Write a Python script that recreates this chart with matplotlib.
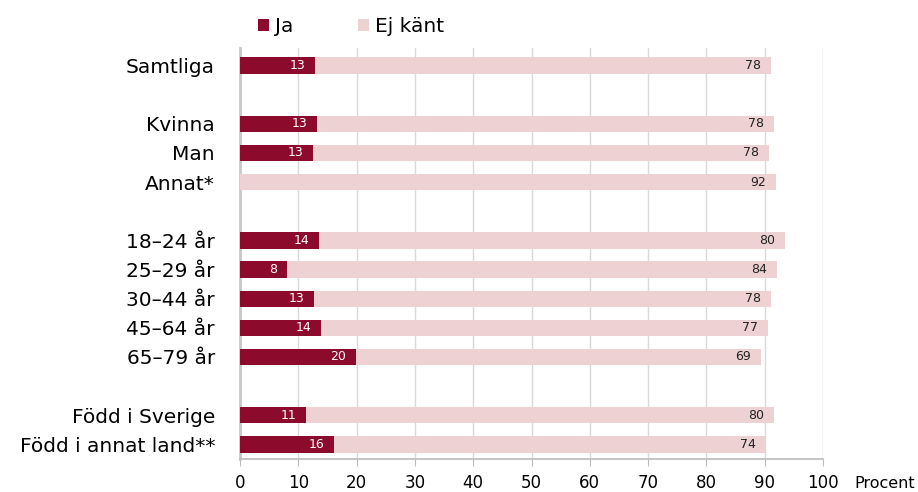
import matplotlib.pyplot as plt
import numpy as np

categories = ["Samtliga", "Kvinna", "Man", "Annat*", "18–24 år", "25–29 år",
              "30–44 år", "45–64 år", "65–79 år", "Född i Sverige", "Född i annat land**"]
row_pos = [0, 2, 3, 4, 6, 7, 8, 9, 10, 12, 13]
ja = [12.9, 13.2, 12.5, 0, 13.6, 8.1, 12.7, 13.9, 19.9, 11.3, 16.1]
ja_labels = ["13", "13", "13", "", "14", "8", "13", "14", "20", "11", "16"]
ej = [78.2, 78.4, 78.2, 91.9, 79.9, 84.0, 78.4, 76.7, 69.5, 80.3, 74.1]
ej_labels = ["78", "78", "78", "92", "80", "84", "78", "77", "69", "80", "74"]
xticks = [0, 10, 20, 30, 40, 50, 60, 70, 80, 90, 100]

c_ja = "#8C0A2C"
c_ej = "#EDD1D3"
font = "DejaVu Sans"

fig = plt.figure(figsize=(9.18, 4.92), dpi=100)
ax = fig.add_axes([240/918, (492-459)/492, (823-240)/918, (459-48)/492])

h = 0.56
ax.barh(row_pos, ja, height=h, color=c_ja, label="Ja", zorder=3)
ax.barh(row_pos, ej, left=ja, height=h, color=c_ej, label="Ej känt", zorder=3)

for y, a, al, e, el in zip(row_pos, ja, ja_labels, ej, ej_labels):
    if al:
        ax.text(a - 1.7, y, al, ha="right", va="center", color="white",
                fontsize=9, family=font, zorder=4)
    ax.text(a + e - 1.7, y, el, ha="right", va="center", color="#222222",
            fontsize=9, family=font, zorder=4)

ax.set_xlim(0, 100)
ax.set_ylim(13.5, -0.6)
ax.set_xticks(xticks)
ax.set_xticklabels([str(t) for t in xticks], family=font, fontsize=12)
ax.set_yticks(row_pos)
ax.set_yticklabels(categories, family=font, fontsize=14.5)
ax.tick_params(axis="y", length=0, pad=18)
ax.tick_params(axis="x", length=5, color="#BBBBBB", pad=6)
ax.grid(axis="x", color="#D9D9D9", linewidth=1, zorder=0)
for s in ["top", "right"]:
    ax.spines[s].set_visible(False)
ax.spines["left"].set_color("#C8C8C8")
ax.spines["left"].set_linewidth(2)
ax.spines["bottom"].set_color("#BBBBBB")
ax.spines["bottom"].set_linewidth(1.2)

fig.text(854/918, (492-483)/492, "Procent", family=font, fontsize=11.5,
         ha="left", va="center")

leg = fig.legend(loc="center left", bbox_to_anchor=(240/918, (492-27)/492), ncol=2,
                 frameon=False, prop={"family": font, "size": 14.5},
                 handlelength=0.55, handleheight=0.55, handletextpad=0.3,
                 columnspacing=3.2)

fig.savefig("out.png", dpi=100)
